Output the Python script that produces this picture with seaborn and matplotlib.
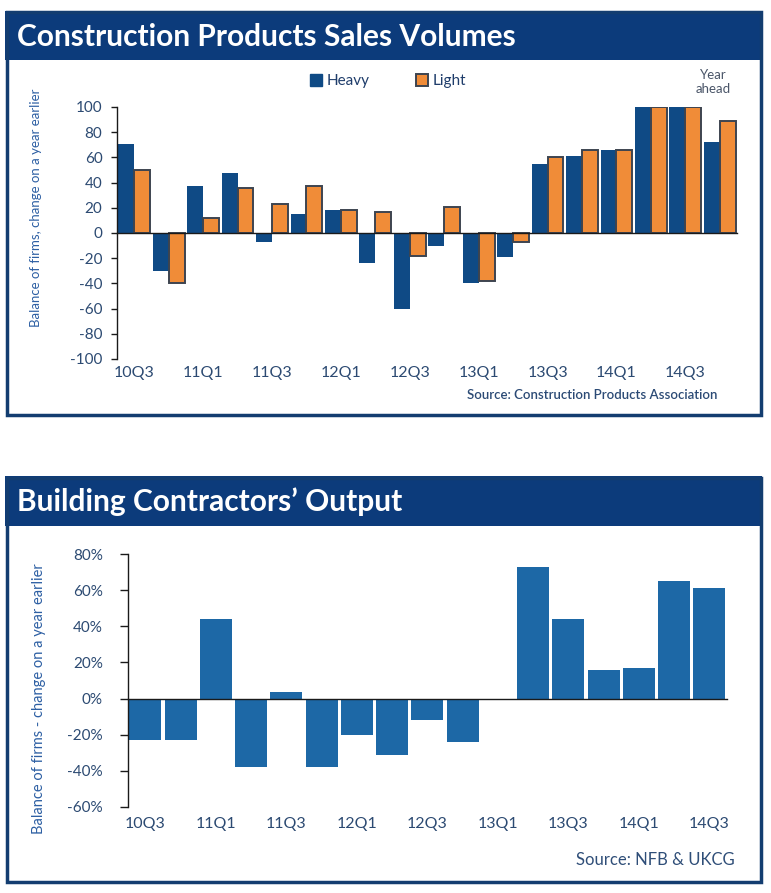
import matplotlib

matplotlib.use("Agg")
import matplotlib.pyplot as plt
import matplotlib.transforms as mtransforms
from matplotlib.patches import Patch, Rectangle
import numpy as np
import pandas as pd
import seaborn as sns

# === figure size in pixels ===
W, H = 771, 893

# === data: Construction Products sales volumes ===
CPA_QUARTERS = [
    "10Q3", "10Q4", "11Q1", "11Q2", "11Q3", "11Q4", "12Q1", "12Q2", "12Q3",
    "12Q4", "13Q1", "13Q2", "13Q3", "13Q4", "14Q1", "14Q2", "14Q3", "Year ahead",
]
HEAVY = [71, -30, 37, 48, -7, 15, 18, -24, -60, -10, -40, -19, 55, 61, 66, 100, 100, 72]
LIGHT = [50, -40, 12, 36, 23, 37, 18, 17, -18, 21, -38, -7, 60, 66, 66, 100, 100, 89]
CPA_TICKS = ["10Q3", "11Q1", "11Q3", "12Q1", "12Q3", "13Q1", "13Q3", "14Q1", "14Q3"]

# === data: Building contractors' output ===
BCO_QUARTERS = [
    "10Q3", "10Q4", "11Q1", "11Q2", "11Q3", "11Q4", "12Q1", "12Q2", "12Q3",
    "12Q4", "13Q1", "13Q2", "13Q3", "13Q4", "14Q1", "14Q2", "14Q3",
]
OUTPUT = [-23, -23, 44, -38, 3.5, -38, -20, -31, -12, -24, 0, 73, 44, 16, 17, 65, 61]
BCO_TICKS = ["10Q3", "11Q1", "11Q3", "12Q1", "12Q3", "13Q1", "13Q3", "14Q1", "14Q3"]

# === colours ===
NAVY = "#0c3b7b"
BORDER = "#133d70"
HEAVY_C = "#0f4a85"
LIGHT_C = "#f08c38"
LIGHT_EDGE = "#3d4450"
BAR_C = "#1d68a6"
TICK_C = "#2c4a72"
YLAB_C = "#2d5fa3"

sns.set_style("white")
plt.rcParams["font.family"] = ["Lato", "DejaVu Sans"]


def frac(x0, y0, x1, y1):
    """Pixel box (top-left origin) -> figure fraction rect."""
    return [x0 / W, 1 - y1 / H, (x1 - x0) / W, (y1 - y0) / H]


def pt(x, y):
    return x / W, 1 - y / H


def draw_panel(fig, top, bottom, header_bottom, title):
    fig.add_artist(Rectangle(pt(5, header_bottom), 757 / W, (header_bottom - top) / H,
                             transform=fig.transFigure, facecolor=NAVY, edgecolor="none", zorder=0))
    fig.add_artist(Rectangle(pt(6.5, bottom - 1.5), 754 / W, (bottom - top - 3) / H,
                             transform=fig.transFigure, facecolor="none", edgecolor=BORDER,
                             linewidth=2.5, zorder=0))
    tx, ty = pt(17, (top + header_bottom) / 2 + 1)
    fig.text(tx, ty, title, color="white", fontsize=21.5, fontweight="bold",
             ha="left", va="center")


def style_axis(ax, n, ymin, ymax, step, label_pad, fmt):
    ax.set_xlim(-0.5, n - 0.5)
    ax.set_ylim(ymin, ymax)
    ax.set_yticks(np.arange(ymin, ymax + 1, step))
    ax.set_yticklabels([fmt(v) for v in np.arange(ymin, ymax + 1, step)])
    for s in ["top", "right"]:
        ax.spines[s].set_visible(False)
    ax.spines["left"].set_color("#1a1a1a")
    ax.spines["left"].set_linewidth(1.0)
    ax.spines["bottom"].set_position(("data", 0))
    ax.spines["bottom"].set_color("#1a1a1a")
    ax.spines["bottom"].set_linewidth(1.0)
    ax.set_xticks(np.arange(0.5, n, 1), minor=True)
    ax.tick_params(axis="x", which="minor", length=4, width=1.0, color="#1a1a1a", direction="out")
    ax.tick_params(axis="x", which="major", length=0, pad=label_pad, labelsize=11.5, labelcolor=TICK_C)
    ax.tick_params(axis="y", length=4.5, width=1.0, color="#1a1a1a", direction="out",
                   labelsize=11, labelcolor=TICK_C, pad=6, left=True)
    ax.set_xlabel("")
    ax.set_ylabel("")
    ax.grid(False)


fig = plt.figure(figsize=(W / 100, H / 100), dpi=100)

# ---------- Panel 1 ----------
draw_panel(fig, 11, 417, 60, "Construction Products Sales Volumes")
ax1 = fig.add_axes(frac(117, 107, 737, 359))
ax1.patch.set_alpha(0)

cpa_df = pd.DataFrame({
    "quarter": CPA_QUARTERS * 2,
    "value": HEAVY + LIGHT,
    "type": ["Heavy"] * len(HEAVY) + ["Light"] * len(LIGHT),
})
sns.barplot(data=cpa_df, x="quarter", y="value", hue="type", order=CPA_QUARTERS,
            hue_order=["Heavy", "Light"], palette=[HEAVY_C, LIGHT_C], saturation=1,
            width=0.92, legend=False, ax=ax1)
for bar in ax1.containers[0]:
    bar.set_edgecolor("none")
for bar in ax1.containers[1]:
    bar.set_edgecolor(LIGHT_EDGE)
    bar.set_linewidth(1.4)

style_axis(ax1, len(CPA_QUARTERS), -100, 100, 20, 96, lambda v: f"{v:d}")
ax1.set_xticks([CPA_QUARTERS.index(t) for t in CPA_TICKS], CPA_TICKS)

handles = [Patch(facecolor=HEAVY_C, edgecolor=HEAVY_C, label="Heavy"),
           Patch(facecolor=LIGHT_C, edgecolor=LIGHT_EDGE, linewidth=1.4, label="Light")]
fig.legend(handles=handles, loc="center", bbox_to_anchor=pt(388, 81), ncol=2, frameon=False,
           handlelength=0.8, handleheight=0.8, handletextpad=0.3, columnspacing=3.0,
           fontsize=11, labelcolor="#1f3d6b")

trans = mtransforms.blended_transform_factory(ax1.transData, fig.transFigure)
ax1.text(CPA_QUARTERS.index("Year ahead") - 0.2, pt(0, 82)[1], "Year\nahead", transform=trans,
         ha="center", va="center", fontsize=9.5, color="#4a5568", linespacing=1.15)

fig.text(*pt(36, 208), "Balance of firms, change on a year earlier", rotation=90,
         ha="center", va="center", fontsize=9.5, color=YLAB_C)
fig.text(*pt(717, 395), "Source: Construction Products Association", ha="right", va="center",
         fontsize=9.5, fontweight="semibold", color="#2b4a75")

# ---------- Panel 2 ----------
draw_panel(fig, 476, 883, 526, "Building Contractors\u2019 Output")
ax2 = fig.add_axes(frac(127.7, 554, 727, 807))
ax2.patch.set_alpha(0)

bco_df = pd.DataFrame({"quarter": BCO_QUARTERS, "value": OUTPUT})
sns.barplot(data=bco_df, x="quarter", y="value", order=BCO_QUARTERS, color=BAR_C,
            saturation=1, width=0.91, ax=ax2)
for bar in ax2.patches:
    bar.set_edgecolor("none")

style_axis(ax2, len(BCO_QUARTERS), -60, 80, 20, 85, lambda v: f"{v:d}%")
ax2.set_xticks([BCO_QUARTERS.index(t) for t in BCO_TICKS], BCO_TICKS)
ax2.tick_params(axis="y", length=6, pad=12)

fig.text(*pt(39, 699), "Balance of firms - change on a year earlier", rotation=90,
         ha="center", va="center", fontsize=10.5, color=YLAB_C)
fig.text(*pt(735, 860), "Source: NFB & UKCG", ha="right", va="center",
         fontsize=12, color="#2f4e78")

fig.savefig("out.png", dpi=100)
